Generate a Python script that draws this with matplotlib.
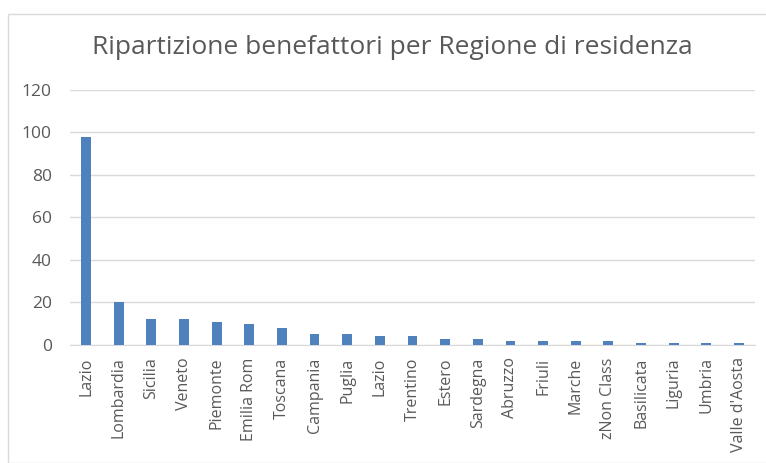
import matplotlib
matplotlib.use("Agg")
import matplotlib.pyplot as plt
from matplotlib.patches import Rectangle

regioni = ["Lazio", "Lombardia", "Sicilia", "Veneto", "Piemonte", "Emilia Rom",
           "Toscana", "Campania", "Puglia", "Lazio", "Trentino", "Estero",
           "Sardegna", "Abruzzo", "Friuli", "Marche", "zNon Class", "Basilicata",
           "Liguria", "Umbria", "Valle d'Aosta"]
benefattori = [98, 20, 12, 12, 11, 10, 8, 5, 5, 4, 4, 3, 3, 2, 2, 2, 2, 1, 1, 1, 1]
yticks = [0, 20, 40, 60, 80, 100, 120]

plt.rcParams['font.family'] = ['Open Sans', 'DejaVu Sans']

fig = plt.figure(figsize=(7.66, 4.63), dpi=100)
ax = fig.add_axes([0.091, 0.255, 0.895, 0.551])

# cornice del grafico
fig.patches.append(Rectangle((8 / 766, 0), 1, 1 - 14 / 463, transform=fig.transFigure,
                             fill=False, edgecolor='#d9d9d9', linewidth=1))

x = range(len(regioni))
ax.bar(x, benefattori, width=0.3, color='#4f81bd', zorder=3)

ax.set_xlim(-0.5, len(regioni) - 0.5)
ax.set_ylim(0, 120)
ax.set_yticks(yticks)
ax.yaxis.grid(True, color='#d9d9d9', linewidth=1, zorder=0)
ax.set_xticks(list(x))
ax.set_xticklabels(regioni, rotation=90, fontsize=11.5, color='#595959')
ax.tick_params(axis='y', labelsize=12.5, labelcolor='#595959', length=0, pad=13)
ax.tick_params(axis='x', length=0, pad=9)
for s in ['top', 'right', 'left']:
    ax.spines[s].set_visible(False)
ax.spines['bottom'].set_color('#d9d9d9')

fig.text(0.512, 0.898, "Ripartizione benefattori per Regione di residenza",
         ha='center', va='center', fontsize=19, color='#595959')

fig.savefig("out.png", dpi=100)
